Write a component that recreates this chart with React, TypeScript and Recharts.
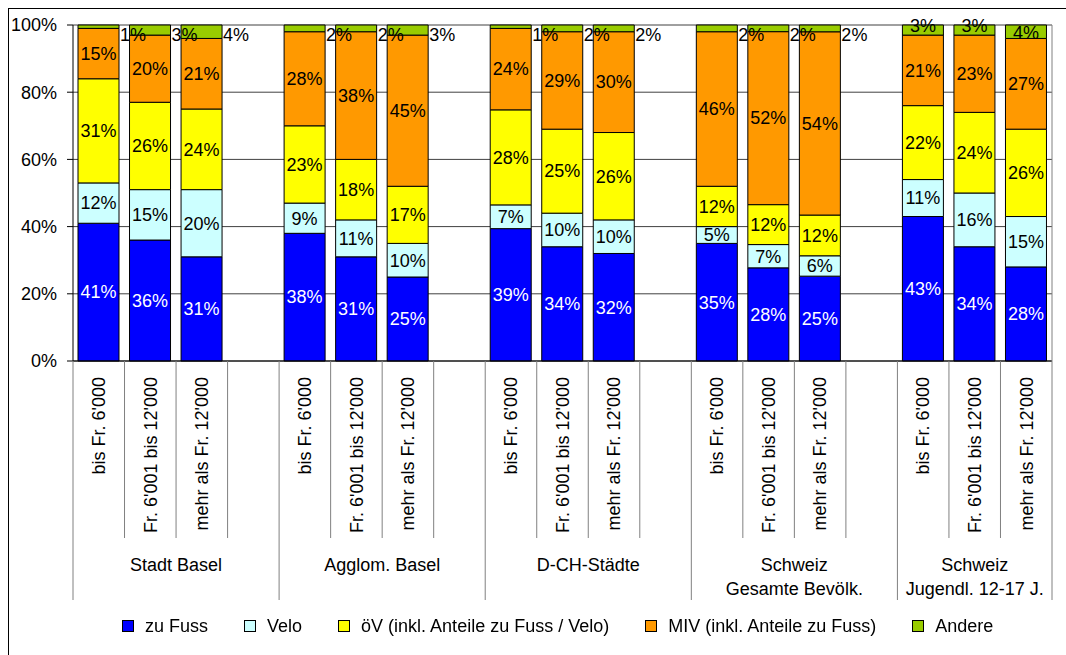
import React from "react";
import { BarChart, Bar, XAxis, YAxis, CartesianGrid, LabelList, Legend } from "recharts";

const groupLabels = [
  ["Stadt Basel"],
  ["Agglom. Basel"],
  ["D-CH-Städte"],
  ["Schweiz", "Gesamte Bevölk."],
  ["Schweiz", "Jugendl. 12-17 J."],
];
const incomeClasses = ["bis Fr. 6'000", "Fr. 6'001 bis 12'000", "mehr als Fr. 12'000"];

// per group: bis 6'000 / 6'001-12'000 / mehr als 12'000
const zuFuss = [41, 36, 31, 38, 31, 25, 39, 34, 32, 35, 28, 25, 43, 34, 28];
const velo = [12, 15, 20, 9, 11, 10, 7, 10, 10, 5, 7, 6, 11, 16, 15];
const oev = [31, 26, 24, 23, 18, 17, 28, 25, 26, 12, 12, 12, 22, 24, 26];
const miv = [15, 20, 21, 28, 38, 45, 24, 29, 30, 46, 52, 54, 21, 23, 27];
const andere = [1, 3, 4, 2, 2, 3, 1, 2, 2, 2, 2, 2, 3, 3, 4];

const yTicks = [0, 0.2, 0.4, 0.6, 0.8, 1];

const series = [
  { key: "zuFuss", name: "zu Fuss", color: "#0000ff", text: "#ffffff", values: zuFuss },
  { key: "velo", name: "Velo", color: "#ccffff", text: "#000000", values: velo },
  { key: "oev", name: "öV (inkl. Anteile zu Fuss / Velo)", color: "#ffff00", text: "#000000", values: oev },
  { key: "miv", name: "MIV (inkl. Anteile zu Fuss)", color: "#ff9900", text: "#000000", values: miv },
  { key: "andere", name: "Andere", color: "#99cc00", text: "#000000", values: andere },
];

const rows: any[] = [];
groupLabels.forEach((g, gi) => {
  incomeClasses.forEach((c, ci) => {
    const i = gi * incomeClasses.length + ci;
    const row: any = { id: `${gi}-${ci}`, label: c, group: gi, pos: ci };
    series.forEach((s) => (row[s.key] = s.values[i]));
    rows.push(row);
  });
  // empty slot after each group except the last one
  if (gi < groupLabels.length - 1) rows.push({ id: `${gi}-gap`, label: "", group: gi, pos: incomeClasses.length });
});
const barRows = rows.filter((r) => r.label);

const FONT = 18;
const SEP = "#808080";

function CategoryTick(props: any) {
  const { x, y, payload } = props;
  const idx = props.index ?? payload.index;
  const row = rows[idx];
  const half = payload.offset;
  const slots = rows.filter((r) => r.group === row.group).length;
  const groupCenter = x - half + slots * half;
  const isLast = idx === rows.length - 1;
  return (
    <g>
      <line x1={x - half} x2={x - half} y1={y} y2={y + (row.pos === 0 ? 239 : 177)} stroke={SEP} />
      {isLast && <line x1={x + half} x2={x + half} y1={y} y2={y + 239} stroke={SEP} />}
      {row.label && (
        <text transform={`translate(${x},${y + 16}) rotate(-90)`} textAnchor="end" dy="0.35em" fontSize={FONT} fill="#000">
          {row.label}
        </text>
      )}
      {row.pos === 0 &&
        groupLabels[row.group].map((line, li) => (
          <text key={li} x={groupCenter} y={y + 204 + li * 24} dy="0.35em" textAnchor="middle" fontSize={FONT} fill="#000">
            {line}
          </text>
        ))}
    </g>
  );
}

const makeLabel = (s: any) => (p: any) => {
  const { value, index } = p;
  if (value == null) return null;
  const vb = p.viewBox ?? p;
  const { x, y, width, height } = vb;
  if (s.key === "andere") {
    const row = p.payload?.group != null ? p.payload : barRows[index];
    if (row && row.group < groupLabels.length - 1) {
      return (
        <text x={x + width + 1} y={y + 10} dy="0.35em" fontSize={FONT} fill="#000">
          {value}%
        </text>
      );
    }
    const cy = value < 4 ? y + 1 : y + height / 2 + 1;
    return (
      <text x={x + width / 2} y={cy} dy="0.35em" textAnchor="middle" fontSize={FONT} fill="#000">
        {value}%
      </text>
    );
  }
  return (
    <text x={x + width / 2} y={y + height / 2} dy="0.35em" textAnchor="middle" fontSize={FONT} fill={s.text}>
      {value}%
    </text>
  );
};

function LegendContent() {
  return (
    <div style={{ display: "flex", alignItems: "center", fontSize: FONT, lineHeight: "20px", color: "#000" }}>
      {series.map((s, i) => (
        <div key={s.key} style={{ display: "flex", alignItems: "center", marginLeft: i ? 36 : 0 }}>
          <span style={{ display: "inline-block", width: 10, height: 10, border: "1px solid #000", background: s.color, marginRight: 11 }} />
          <span>{s.name}</span>
        </div>
      ))}
    </div>
  );
}

export default function App() {
  return (
    <div
      style={{
        position: "fixed",
        left: 8,
        top: 8,
        width: 1058,
        height: 660,
        borderLeft: "1px solid #000",
        borderTop: "1px solid #000",
        fontFamily: "'Liberation Sans', Arial, sans-serif",
        background: "#fff",
      }}
    >
      <BarChart
        width={1057}
        height={646}
        data={rows}
        stackOffset="expand"
        barSize={41}
        margin={{ top: 16, right: 13, bottom: 55, left: 0 }}
      >
        <CartesianGrid yAxisId="left" vertical={false} stroke="#404040" />
        <XAxis
          dataKey="id"
          interval={0}
          height={239}
          tickSize={0}
          tickMargin={0}
          tickLine={false}
          axisLine={{ stroke: "#000" }}
          tick={<CategoryTick />}
        />
        <YAxis
          yAxisId="left"
          width={64}
          domain={[0, 1]}
          ticks={yTicks}
          tickSize={6}
          tickMargin={10}
          axisLine={{ stroke: "#000" }}
          tickLine={{ stroke: "#000" }}
          tick={{ fill: "#000", fontSize: FONT }}
          tickFormatter={(v: number) => `${Math.round(v * 100)}%`}
        />
        <YAxis
          yAxisId="right"
          orientation="right"
          width={1}
          domain={[0, 1]}
          tick={false}
          tickLine={false}
          axisLine={{ stroke: SEP }}
        />
        <Legend
          layout="horizontal"
          verticalAlign="middle"
          align="center"
          content={<LegendContent />}
          wrapperStyle={{ left: 113, top: 607, width: 950, height: 20 }}
        />
        {series.map((s) => (
          <Bar
            key={s.key}
            dataKey={s.key}
            name={s.name}
            stackId="a"
            yAxisId="left"
            fill={s.color}
            stroke="#000"
            strokeWidth={1}
            isAnimationActive={false}
          >
            <LabelList dataKey={s.key} content={makeLabel(s)} />
          </Bar>
        ))}
      </BarChart>
    </div>
  );
}
